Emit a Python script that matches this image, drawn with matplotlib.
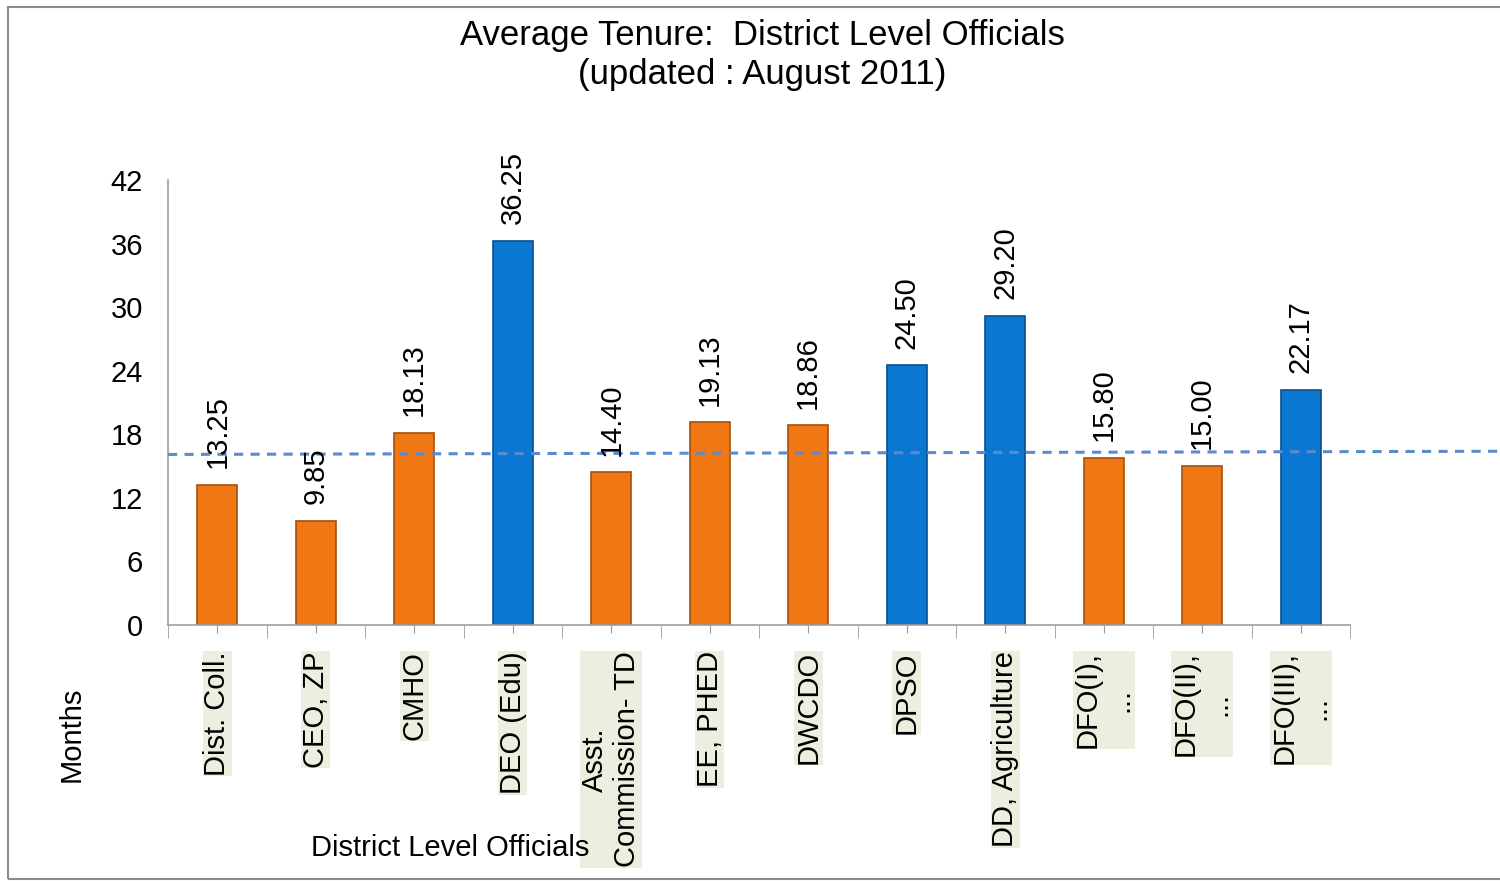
import matplotlib.pyplot as plt
from matplotlib.patches import Rectangle
from matplotlib.ticker import FixedLocator

plt.rcParams["font.family"] = ["Liberation Sans", "DejaVu Sans"]

officials = ["Dist. Coll.", "CEO, ZP", "CMHO", "DEO (Edu)", "Asst.\nCommission- TD",
             "EE, PHED", "DWCDO", "DPSO", "DD, Agriculture",
             "DFO(I),\n...", "DFO(II),\n...", "DFO(III),\n..."]
tenure = [13.25, 9.85, 18.13, 36.25, 14.40, 19.13, 18.86, 24.50, 29.20, 15.80, 15.00, 22.17]
highlight = [False, False, False, True, False, False, False, True, True, False, False, True]
avg_line = [16.1, 16.4]   # dashed reference line, left and right ends
y_ticks = [0, 6, 12, 18, 24, 30, 36, 42]

ORANGE, ORANGE_EDGE = "#F07814", "#A84E0A"
BLUE, BLUE_EDGE = "#0A78D2", "#0A4E8C"

fig = plt.figure(figsize=(15, 8.81), dpi=100)
ax = fig.add_axes([0.112, 0.2906, 0.788, 0.505])

x = list(range(len(officials)))
colors = [BLUE if h else ORANGE for h in highlight]
edges = [BLUE_EDGE if h else ORANGE_EDGE for h in highlight]
bars = ax.bar(x, tenure, width=0.41, color=colors, edgecolor=edges, linewidth=1.2, zorder=2)

for b, v in zip(bars, tenure):
    ax.annotate(f"{v:.2f}", (b.get_x() + b.get_width() / 2, v), xytext=(0, 12),
                textcoords="offset points", rotation=90, ha="center", va="bottom",
                fontsize=21, zorder=4)

# dashed reference line running past the plot area
ax.plot([-0.5, 13.05], avg_line, ls=(0, (3, 2.4)), color="#5B8ACF", lw=2.2,
        clip_on=False, zorder=3)

ax.set_xlim(-0.5, len(officials) - 0.5)
ax.set_ylim(0, 42)
ax.set_yticks(y_ticks)
ax.tick_params(axis="y", labelsize=21, length=0, pad=18)

ax.set_xticks(x)
ax.set_xticklabels(officials, rotation=90, fontsize=21, va="top", ha="center",
                   multialignment="center")
ax.xaxis.set_minor_locator(FixedLocator([i - 0.5 for i in range(len(officials) + 1)]))
ax.tick_params(axis="x", which="major", length=6, color="#9a9a9a", pad=13)
ax.tick_params(axis="x", which="minor", length=9, color="#9a9a9a")
for lab in ax.get_xticklabels():
    lab.set_bbox(dict(facecolor="#EBEFDF", edgecolor="none", pad=0.5))

for s in ["top", "right"]:
    ax.spines[s].set_visible(False)
for s in ["left", "bottom"]:
    ax.spines[s].set_color("#a0a0a0")
    ax.spines[s].set_linewidth(1.2)

fig.text(0.508, 0.978, "Average Tenure:  District Level Officials\n(updated : August 2011)",
         ha="center", va="top", fontsize=25, linespacing=1.2)
fig.text(0.048, 0.166, "Months", rotation=90, ha="center", va="center", fontsize=21)
fig.text(0.3, 0.037, "District Level Officials", ha="center", va="center", fontsize=21)

fig.patches.append(Rectangle((0.0055, 0.002), 1.2, 0.99, transform=fig.transFigure,
                             fill=False, edgecolor="#8c8c8c", linewidth=1.5))

fig.savefig("out.png", dpi=100)
